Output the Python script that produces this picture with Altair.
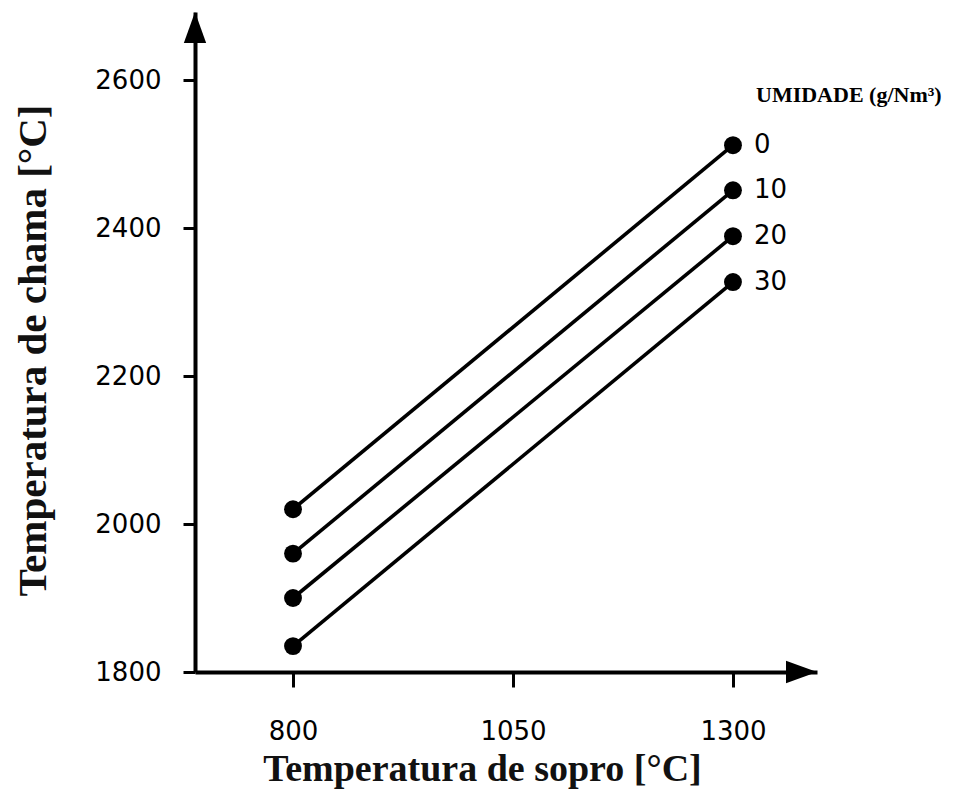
import altair as alt
import pandas as pd

# --- data ---
blast_temp = [800, 1300]                      # Temperatura de sopro [°C]
humidity = ["0", "10", "20", "30"]            # UMIDADE (g/Nm³)
flame_at_800 = [2020, 1960, 1900, 1835]       # Temperatura de chama at 800 °C
flame_at_1300 = [2512, 2451, 2389, 2327]      # Temperatura de chama at 1300 °C
x_ticks = [800, 1050, 1300]
y_ticks = [1800, 2000, 2200, 2400, 2600]
legend_title = "UMIDADE (g/Nm³)"

rows = []
for h, a, b in zip(humidity, flame_at_800, flame_at_1300):
    rows.append({"umid": h, "sopro": blast_temp[0], "chama": a})
    rows.append({"umid": h, "sopro": blast_temp[1], "chama": b})
df = pd.DataFrame(rows)
end = df[df["sopro"] == blast_temp[1]]

W, H = 622, 660
xs = alt.Scale(domain=[688.6, 1395.5], nice=False, zero=False)
ys = alt.Scale(domain=[1800, 2692], nice=False, zero=False)

common_axis = dict(
    grid=False, domainWidth=4, domainColor="black", tickColor="black",
    tickWidth=3, labelFont="DejaVu Sans", labelFontSize=26, labelColor="black",
    titleFont="Liberation Serif", titleFontWeight="bold",
    titleColor="#111", format="d",
)
x_axis = alt.Axis(values=x_ticks, title="Temperatura de sopro [°C]", tickSize=15,
                  labelPadding=31, titleFontSize=38, titleBaseline="alphabetic",
                  titleX=287, titleY=108, **common_axis)
y_axis = alt.Axis(values=y_ticks, title="Temperatura de chama [°C]", tickSize=12,
                  labelPadding=22, titleFontSize=41, titlePadding=40, titleY=338,
                  **common_axis)

base = alt.Chart(df).encode(
    x=alt.X("sopro:Q", scale=xs, axis=x_axis),
    y=alt.Y("chama:Q", scale=ys, axis=y_axis),
    detail="umid:N",
)
lines = base.mark_line(color="black", strokeWidth=3.6)
dots = base.mark_circle(color="black", size=320, opacity=1)

labels = alt.Chart(end).mark_text(
    align="left", baseline="middle", dx=21, font="DejaVu Sans", fontSize=26, color="black"
).encode(
    x=alt.X("sopro:Q", scale=xs),
    y=alt.Y("chama:Q", scale=ys),
    text="umid:N",
)

title_txt = alt.Chart(pd.DataFrame({"t": [legend_title]})).mark_text(
    align="left", baseline="alphabetic", font="Liberation Serif", fontWeight="bold",
    fontSize=22, color="black"
).encode(x=alt.value(561), y=alt.value(90), text="t:N")

arrow_df = pd.DataFrame({"k": [0]})
arrow_up = alt.Chart(arrow_df).mark_point(
    shape="M0,-1L0.72,1L-0.72,1Z", size=961, filled=True, color="black", opacity=1, strokeWidth=0
).encode(x=alt.value(0), y=alt.value(15.5))
arrow_right = alt.Chart(arrow_df).mark_point(
    shape="M1,0L-1,0.72L-1,-0.72Z", size=961, filled=True, color="black", opacity=1, strokeWidth=0
).encode(x=alt.value(W - 15.5), y=alt.value(H))

chart = alt.layer(lines, dots, labels, title_txt, arrow_up, arrow_right).properties(
    width=W, height=H,
    autosize=alt.AutoSizeParams(type="none"),
    padding={"left": 187, "top": 4, "right": 132, "bottom": 117},
).configure_view(stroke=None)

chart.save("out.html", embed_options={"renderer": "svg", "actions": False})
